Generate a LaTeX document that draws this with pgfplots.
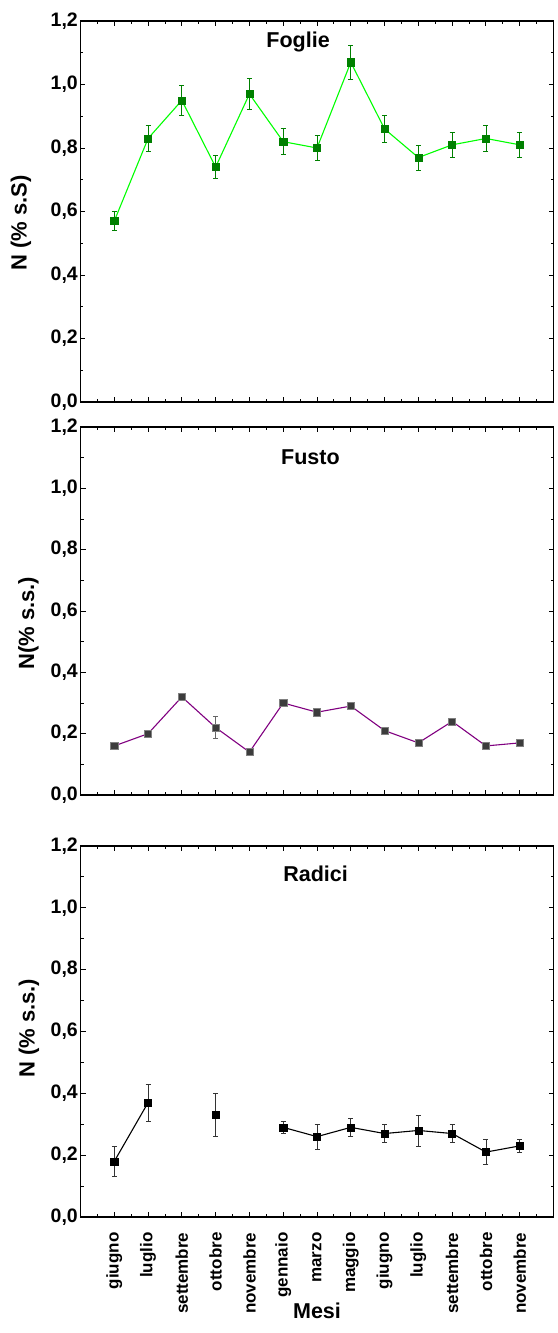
\documentclass[border=0pt]{standalone}
\usepackage{fontspec}
\setmainfont{Liberation Sans}
\usepackage{pgfplots}
\pgfplotsset{compat=1.18}
\definecolor{fgreen}{RGB}{0,128,0}
\definecolor{flime}{RGB}{0,255,0}
\definecolor{fpurple}{RGB}{128,0,128}
\definecolor{fgray}{RGB}{60,60,60}
\pgfplotsset{
  panel/.style={
    scale only axis, width=473pt,
    xmin=0, xmax=14, ymin=0, ymax=1.2,
    xtick={1,...,13}, minor xtick={0.5,1.5,...,13.5},
    ytick={0,0.2,...,1.2}, minor ytick={0.1,0.3,...,1.1},
    tick align=inside, major tick length=5pt, minor tick length=3pt,
    tick style={line width=0.9pt, black},
    axis line style={line width=1.1pt},
    /pgf/number format/.cd, fixed, fixed zerofill, precision=1, use comma, assume math mode=true,
    /pgfplots/.cd,
    yticklabel style={font=\fontsize{19.5}{21}\selectfont\bfseries, inner sep=2.5pt},
    xticklabel style={font=\fontsize{17}{19}\selectfont\bfseries, rotate=90, anchor=east},
    clip=false,
  },
}
\begin{document}
\begin{tikzpicture}
\path[use as bounding box] (0,0) rectangle (557pt,-1333pt);
% ---------- Foglie
\begin{axis}[panel, at={(80.5pt,-21pt)}, anchor=north west, height=381pt,
  xticklabels={},
  every axis y label/.style={at={(axis description cs:-0.126,0.47)}, rotate=90, anchor=center, font=\fontsize{22}{24}\selectfont\bfseries},
  ylabel={N (\% s.S)}]
\addplot[color=flime, line width=1.1pt, mark=square*, mark size=3.6pt,
  mark options={fill=fgreen, draw=fgreen, line width=0.5pt},
  error bars/.cd, y dir=both, y explicit,
  error bar style={fgreen, line width=0.8pt},
  error mark options={fgreen, line width=0.8pt, mark size=2.5pt, rotate=90}]
coordinates {
(1,0.57) +- (0,0.029)
(2,0.83) +- (0,0.042)
(3,0.95) +- (0,0.048)
(4,0.74) +- (0,0.037)
(5,0.97) +- (0,0.048)
(6,0.82) +- (0,0.041)
(7,0.80) +- (0,0.040)
(8,1.07) +- (0,0.054)
(9,0.86) +- (0,0.042)
(10,0.77) +- (0,0.039)
(11,0.81) +- (0,0.040)
(12,0.83) +- (0,0.041)
(13,0.81) +- (0,0.040)
};
\node[anchor=base, font=\fontsize{21.5}{23}\selectfont\bfseries] at (rel axis cs:0.46,0.93) {Foglie};
\end{axis}
% ---------- Fusto
\begin{axis}[panel, at={(80.5pt,-427pt)}, anchor=north west, height=368pt,
  xticklabels={},
  every axis y label/.style={at={(axis description cs:-0.11,0.467)}, rotate=90, anchor=center, font=\fontsize{22}{24}\selectfont\bfseries},
  ylabel={N(\% s.s.)}]
\addplot[color=fpurple, line width=1.1pt, mark=square*, mark size=3.6pt,
  mark options={fill=fgray, draw=gray, line width=0.5pt},
  error bars/.cd, y dir=both, y explicit,
  error bar style={gray!80!black, line width=0.8pt},
  error mark options={gray!80!black, line width=0.8pt, mark size=2.5pt, rotate=90}]
coordinates {
(1,0.16) +- (0,0.005)
(2,0.20) +- (0,0.005)
(3,0.32) +- (0,0.012)
(4,0.22) +- (0,0.035)
(5,0.14) +- (0,0.005)
(6,0.30) +- (0,0.010)
(7,0.27) +- (0,0.008)
(8,0.29) +- (0,0.009)
(9,0.21) +- (0,0.005)
(10,0.17) +- (0,0.005)
(11,0.24) +- (0,0.008)
(12,0.16) +- (0,0.005)
(13,0.17) +- (0,0.005)
};
\node[anchor=base, font=\fontsize{21.5}{23}\selectfont\bfseries] at (rel axis cs:0.486,0.897) {Fusto};
\end{axis}
% ---------- Radici
\begin{axis}[panel, at={(80.5pt,-846pt)}, anchor=north west, height=371pt,
  xticklabels={giugno,luglio,settembre,ottobre,novembre,gennaio,marzo,maggio,giugno,luglio,settembre,ottobre,novembre},
  xticklabel shift=12pt,
  unbounded coords=jump,
  every axis y label/.style={at={(axis description cs:-0.109,0.509)}, rotate=90, anchor=center, font=\fontsize{22}{24}\selectfont\bfseries},
  ylabel={N (\% s.s.)},
  every axis x label/.style={at={(axis description cs:0.5,0)}, anchor=base, yshift=-101pt, font=\fontsize{21.5}{23}\selectfont\bfseries},
  xlabel={Mesi}]
\addplot[color=black, line width=1.1pt, mark=square*, mark size=3.6pt,
  mark options={fill=black, draw=black, line width=0.5pt},
  error bars/.cd, y dir=both, y explicit,
  error bar style={black!80, line width=0.8pt},
  error mark options={black!80, line width=0.8pt, mark size=2.5pt, rotate=90}]
coordinates {
(1,0.18) +- (0,0.05)
(2,0.37) +- (0,0.06)
(3,nan) +- (0,0)
(4,0.33) +- (0,0.07)
(5,nan) +- (0,0)
(6,0.29) +- (0,0.02)
(7,0.26) +- (0,0.04)
(8,0.29) +- (0,0.03)
(9,0.27) +- (0,0.03)
(10,0.28) +- (0,0.05)
(11,0.27) +- (0,0.03)
(12,0.21) +- (0,0.04)
(13,0.23) +- (0,0.02)
};
\node[anchor=base, font=\fontsize{21.5}{23}\selectfont\bfseries] at (rel axis cs:0.497,0.904) {Radici};
\end{axis}
\end{tikzpicture}
\end{document}
